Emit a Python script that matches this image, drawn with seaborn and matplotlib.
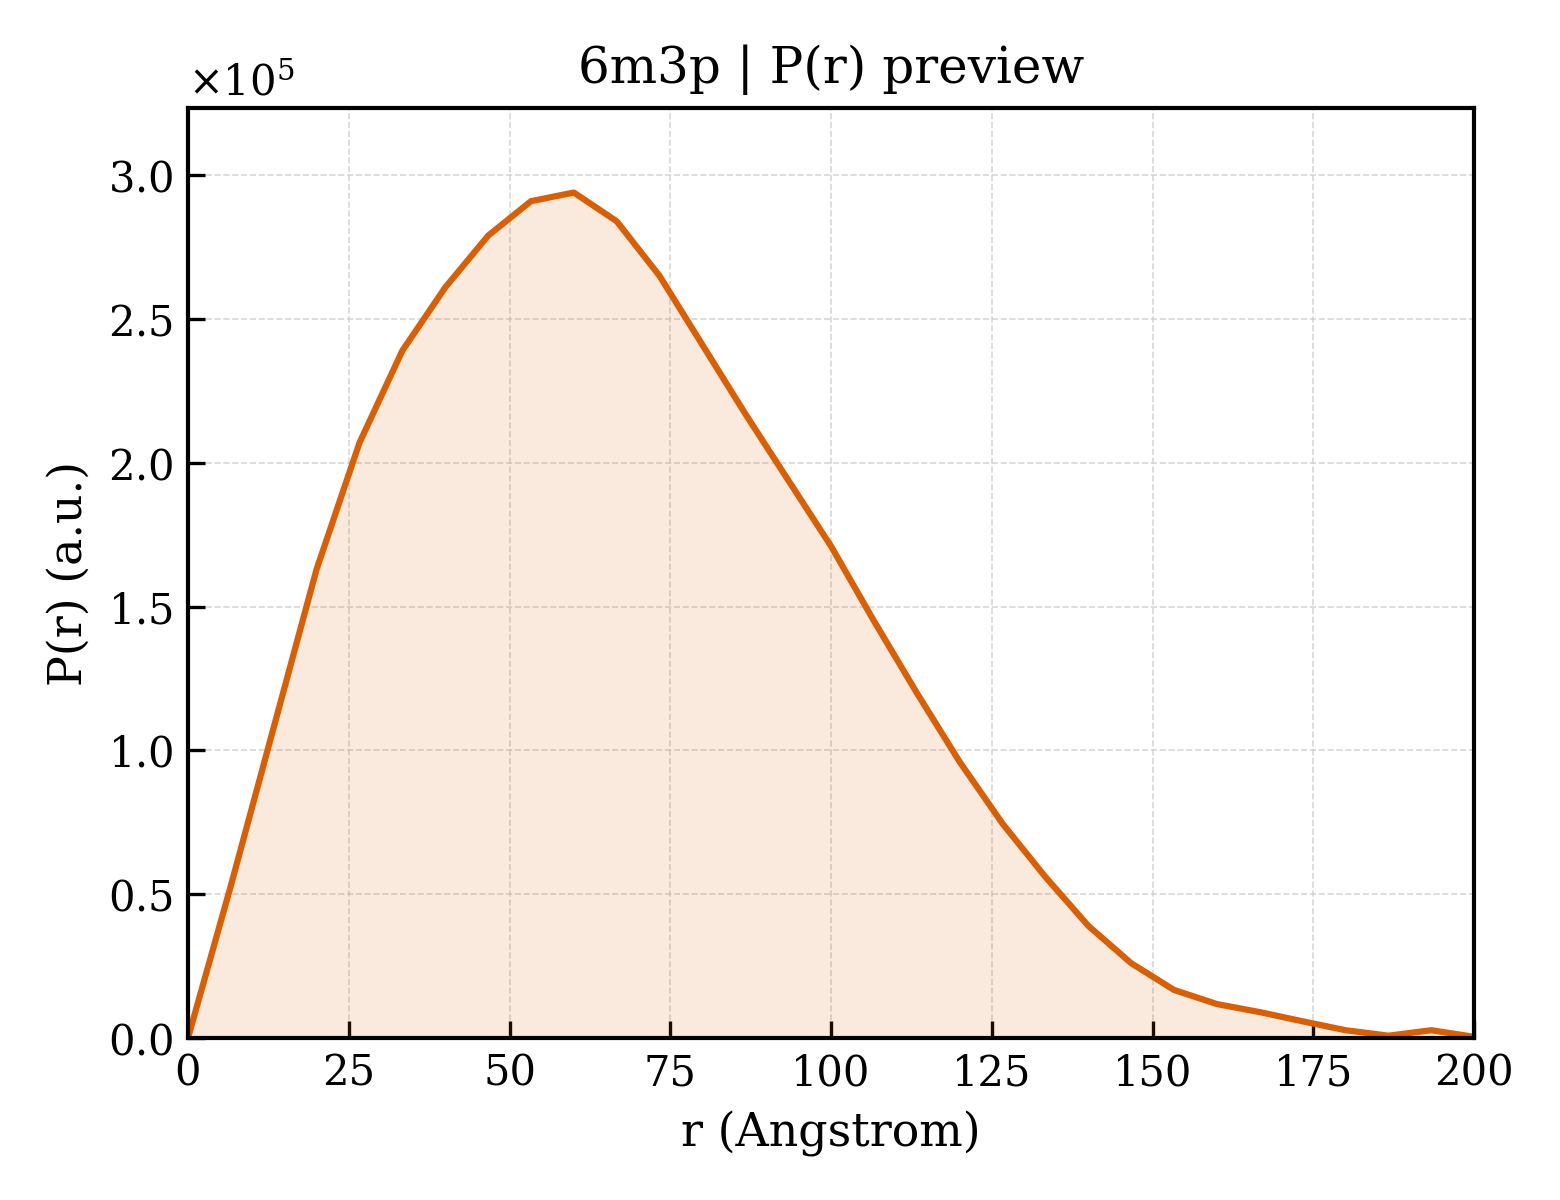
import numpy as np
import pandas as pd
import matplotlib
matplotlib.use("Agg")
import matplotlib.pyplot as plt
import seaborn as sns

# P(r) (r in Angstrom, P in units of 1e5)
r_vals = [0.0, 6.67, 13.33, 20.0, 26.67, 33.33, 40.0, 46.67, 53.33, 60.0,
          66.67, 73.33, 80.0, 86.67, 93.33, 100.0, 106.67, 113.33, 120.0, 126.67,
          133.33, 140.0, 146.67, 153.33, 160.0, 166.67, 173.33, 180.0, 186.67, 193.33,
          200.0]
pr_e5 = [0.0, 0.53, 1.08, 1.63, 2.07, 2.39, 2.61, 2.79, 2.91, 2.94,
         2.84, 2.65, 2.41, 2.17, 1.94, 1.71, 1.45, 1.20, 0.96, 0.745,
         0.56, 0.39, 0.26, 0.167, 0.118, 0.09, 0.058, 0.027, 0.008, 0.027,
         0.004]
title = "6m3p | P(r) preview"
line_color = "#d95f02"

df = pd.DataFrame({"r": r_vals, "pr": np.array(pr_e5) * 1e5})

sns.set_style("white")
plt.rcParams["font.family"] = ["DejaVu Serif"]
plt.rcParams["mathtext.fontset"] = "dejavuserif"
plt.rcParams["text.color"] = "black"
plt.rcParams["axes.labelcolor"] = "black"
plt.rcParams["xtick.color"] = "black"
plt.rcParams["ytick.color"] = "black"

fig = plt.figure(figsize=(5.2, 4.0), dpi=300)
ax = fig.add_axes([0.1205, 0.135, 0.8245, 0.775])

ax.fill_between(df["r"], df["pr"], color=line_color, alpha=0.13, linewidth=0)
sns.lineplot(data=df, x="r", y="pr", ax=ax, color=line_color, linewidth=1.5)

ax.set_xlim(0, 200)
ax.set_ylim(0, df["pr"].max() * 1.1)
ax.set_xticks([0, 25, 50, 75, 100, 125, 150, 175, 200])
ax.set_yticks(np.arange(0, 3.01e5, 0.5e5))
ax.ticklabel_format(axis="y", style="sci", scilimits=(0, 0), useMathText=True)
ax.yaxis.get_offset_text().set_fontsize(10)
ax.yaxis.get_offset_text().set_color("black")

ax.grid(True, linestyle="--", linewidth=0.4, color="#cccccc", alpha=0.8)
ax.tick_params(direction="in", length=4, width=0.8, labelsize=10,
               colors="black", top=False, right=False, left=True, bottom=True)
for s in ax.spines.values():
    s.set_linewidth(1.0)
    s.set_color("black")

ax.set_xlabel("r (Angstrom)", fontsize=11, color="black")
ax.set_ylabel("P(r) (a.u.)", fontsize=11, color="black")
ax.set_title(title, fontsize=12, color="black")

fig.savefig("out.png", dpi=300)
